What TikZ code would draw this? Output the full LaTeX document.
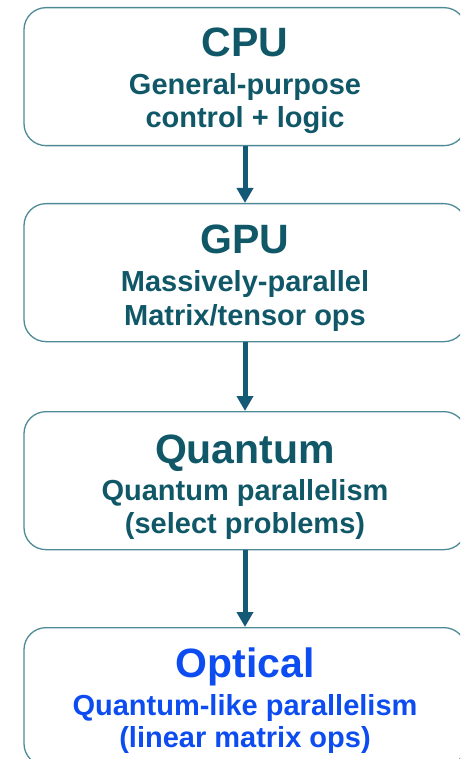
\documentclass[tikz,border=0pt]{standalone}
\usepackage{fontspec}
\setmainfont{Liberation Sans}
\usetikzlibrary{arrows.meta}
\definecolor{tealtxt}{RGB}{16,88,104}
\definecolor{boxline}{RGB}{78,138,150}
\definecolor{arrowc}{RGB}{20,90,118}
\definecolor{optblue}{RGB}{12,76,240}
\begin{document}
\begin{tikzpicture}[x=1pt,y=-1pt,
  stage/.style={draw=boxline, line width=1.3pt, rounded corners=22pt, minimum width=442pt, minimum height=138pt, inner sep=0pt, anchor=north},
  ttl/.style={anchor=base, font=\bfseries\fontsize{41}{41}\selectfont, text=tealtxt, inner sep=0pt},
  sub/.style={anchor=base, font=\bfseries\fontsize{29}{29}\selectfont, text=tealtxt, inner sep=0pt},
  flow/.style={draw=arrowc, line width=5pt, -{Triangle[width=16pt,length=15pt]}}]
\useasboundingbox (0,0) rectangle (460,759);
\clip (0,0) rectangle (460,759);
% CPU
\node[stage] (cpu) at (245,7) {};
\node[ttl] (cpuT) at (245,57) {CPU};
\node[sub] (cpuA) at (245,95) {General-purpose};
\node[sub] (cpuB) at (245,128) {control + logic};
% GPU
\node[stage] (gpu) at (245,203) {};
\node[ttl] (gpuT) at (245,253) {GPU};
\node[sub] (gpuA) at (245,291) {Massively-parallel};
\node[sub] (gpuB) at (245,325) {Matrix/tensor ops};
% Quantum
\node[stage] (qua) at (245,411) {};
\node[ttl] (quaT) at (245,463) {Quantum};
\node[sub] (quaA) at (245,500) {Quantum parallelism};
\node[sub] (quaB) at (245,533) {(select problems)};
% Optical
\node[stage] (opt) at (245,627) {};
\node[ttl, text=optblue] (optT) at (245,677) {Optical};
\node[sub, text=optblue] (optA) at (245,715) {Quantum-like parallelism};
\node[sub, text=optblue] (optB) at (245,747) {(linear matrix ops)};
% arrows
\draw[flow] (cpu.south) -- (gpu.north);
\draw[flow] (gpu.south) -- (qua.north);
\draw[flow] (qua.south) -- (opt.north);
\end{tikzpicture}
\end{document}
